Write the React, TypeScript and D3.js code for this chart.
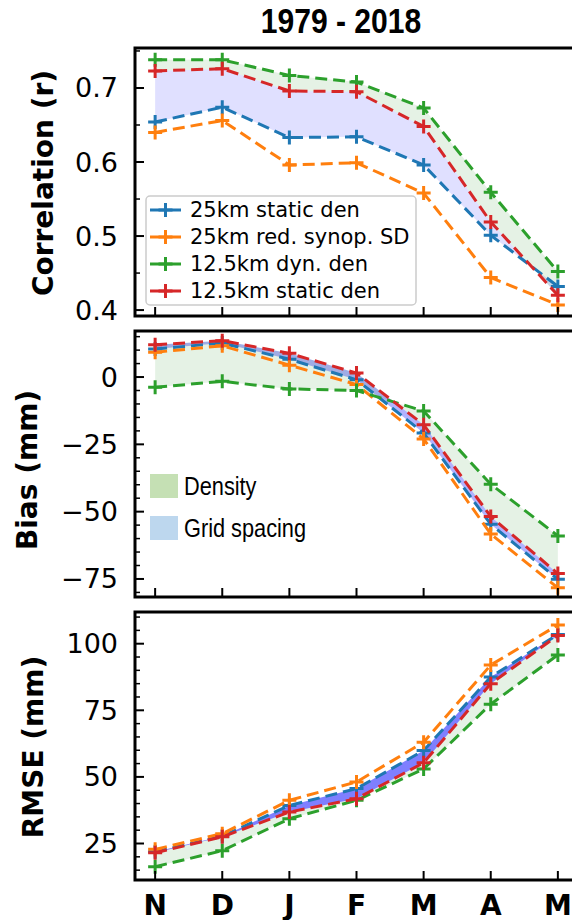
import React, { useEffect, useRef } from 'react';
import * as d3 from 'd3';

const months = ['N', 'D', 'J', 'F', 'M', 'A', 'M'];

// Correlation (r)
const corrStatic25 = [0.654, 0.674, 0.633, 0.634, 0.596, 0.501, 0.432];
const corrRedSynop25 = [0.64, 0.656, 0.596, 0.599, 0.558, 0.444, 0.407];
const corrDyn125 = [0.738, 0.738, 0.717, 0.708, 0.673, 0.559, 0.452];
const corrStatic125 = [0.723, 0.726, 0.696, 0.695, 0.648, 0.519, 0.42];

// Bias (mm)
const biasStatic25 = [10.4, 12.6, 6.6, -1.0, -20.8, -54.7, -75.1];
const biasRedSynop25 = [9.2, 11.6, 4.4, -2.8, -23.0, -58.3, -78.3];
const biasDyn125 = [-3.8, -1.6, -4.4, -5.0, -12.6, -39.8, -59.0];
const biasStatic125 = [12.0, 13.5, 8.8, 1.5, -17.7, -51.8, -73.0];

// RMSE (mm)
const rmseStatic25 = [21.9, 27.7, 39.3, 45.6, 59.9, 87.5, 103.5];
const rmseRedSynop25 = [22.8, 28.7, 41.2, 48.1, 63.0, 92.0, 107.0];
const rmseDyn125 = [16.3, 22.3, 34.3, 41.2, 53.0, 77.3, 95.8];
const rmseStatic125 = [21.5, 27.5, 36.8, 41.8, 55.3, 85.0, 103.1];

const seriesNames = ['25km static den', '25km red. synop. SD', '12.5km dyn. den', '12.5km static den'];
const seriesColors = ['#1f77b4', '#ff7f0e', '#2ca02c', '#d62728'];

const corrTicks = [0.4, 0.5, 0.6, 0.7];
const biasTicks = [-75, -50, -25, 0];
const rmseTicks = [25, 50, 75, 100];

const patchLabels = ['Density', 'Grid spacing'];
const patchColors = ['#c5e0b4', '#bdd7ee'];

const W = 572;
const H = 920;
// no Arial Narrow here, so squeeze Liberation Sans horizontally
const narrow = '"Liberation Sans", Arial, sans-serif';

export default function App() {
  const ref = useRef<SVGSVGElement>(null);

  useEffect(() => {
    const svg = d3.select(ref.current);
    svg.selectAll('*').remove();
    svg.append('rect').attr('width', W).attr('height', H).attr('fill', 'white');

    const left = 135;
    const right = 578;
    const x = d3.scaleLinear().domain([-0.3, 6.3]).range([left, right]);
    const idx = d3.range(months.length);

    const panels = [
      {
        top: 48, bottom: 316, domain: [0.392, 0.754], ticks: corrTicks, minor: d3.range(0.45, 0.76, 0.1),
        fmt: d3.format('.1f'), series: [corrStatic25, corrRedSynop25, corrDyn125, corrStatic125],
        label: 'Correlation (r)', lx: 43, ly: 183, gridAlpha: 0.12,
      },
      {
        top: 331, bottom: 597, domain: [-81.7, 17.1], ticks: biasTicks, minor: d3.range(-80, 16, 5),
        fmt: d3.format('d'), series: [biasStatic25, biasRedSynop25, biasDyn125, biasStatic125],
        label: 'Bias (mm)', lx: 27, ly: 470, gridAlpha: 0.3,
      },
      {
        top: 612, bottom: 880, domain: [11.3, 111.9], ticks: rmseTicks, minor: d3.range(15, 111, 5),
        fmt: d3.format('d'), series: [rmseStatic25, rmseRedSynop25, rmseDyn125, rmseStatic125],
        label: 'RMSE (mm)', lx: 33, ly: 747, gridAlpha: 0.5,
      },
    ];

    panels.forEach((p, pi) => {
      const y = d3.scaleLinear().domain(p.domain).range([p.bottom, p.top]);
      const g = svg.append('g');
      const clipId = `clip${pi}`;
      svg.append('clipPath').attr('id', clipId)
        .append('rect').attr('x', left).attr('y', p.top).attr('width', right - left).attr('height', p.bottom - p.top);

      const plot = g.append('g').attr('clip-path', `url(#${clipId})`);
      const [s25, , dyn125, s125] = p.series;

      // fills: grid spacing (25km static vs 12.5km static), density (12.5km static vs dyn)
      const gridArea = d3.area<number>().x((i) => x(i)).y0((i) => y(s25[i])).y1((i) => y(s125[i]));
      const denArea = d3.area<number>().x((i) => x(i)).y0((i) => y(s125[i])).y1((i) => y(dyn125[i]));
      plot.append('path').datum(idx).attr('d', gridArea).attr('fill', 'blue').attr('fill-opacity', p.gridAlpha);
      plot.append('path').datum(idx).attr('d', denArea).attr('fill', 'green').attr('fill-opacity', 0.1);

      const line = d3.line<number>().x((i) => x(i));
      p.series.forEach((vals, si) => {
        plot.append('path').datum(idx)
          .attr('d', line.y((i) => y(vals[i])))
          .attr('fill', 'none')
          .attr('stroke', seriesColors[si])
          .attr('stroke-width', 3)
          .attr('stroke-dasharray', '12,6');
        plot.append('g').selectAll('path').data(idx).enter().append('path')
          .attr('d', (i) => {
            const cx = x(i);
            const cy = y(vals[i]);
            return `M${cx - 7},${cy}H${cx + 7}M${cx},${cy - 7}V${cy + 7}`;
          })
          .attr('stroke', seriesColors[si])
          .attr('stroke-width', 3);
      });

      // spines
      g.append('rect').attr('x', left).attr('y', p.top).attr('width', right - left).attr('height', p.bottom - p.top)
        .attr('fill', 'none').attr('stroke', 'black').attr('stroke-width', 3);

      // y ticks (inward)
      g.selectAll('.major').data(p.ticks).enter().append('line')
        .attr('x1', left).attr('x2', left + 9).attr('y1', (d) => y(d)).attr('y2', (d) => y(d))
        .attr('stroke', 'black').attr('stroke-width', 2);
      g.selectAll('.minor').data(p.minor.filter((d) => !p.ticks.some((t) => Math.abs(t - d) < 1e-6))).enter().append('line')
        .attr('x1', left).attr('x2', left + 5).attr('y1', (d) => y(d)).attr('y2', (d) => y(d))
        .attr('stroke', 'black').attr('stroke-width', 1.5);
      g.selectAll('.ylab').data(p.ticks).enter().append('text')
        .attr('x', left - 17).attr('y', (d) => y(d))
        .attr('text-anchor', 'end').attr('dominant-baseline', 'central')
        .attr('font-family', 'DejaVu Sans').attr('font-size', 27)
        .text((d) => p.fmt(d));

      // x ticks (inward)
      g.selectAll('.xt').data(idx).enter().append('line')
        .attr('x1', (i) => x(i)).attr('x2', (i) => x(i)).attr('y1', p.bottom).attr('y2', p.bottom - 9)
        .attr('stroke', 'black').attr('stroke-width', 2);

      // axis label
      g.append('text')
        .attr('transform', `translate(${p.lx},${p.ly}) rotate(-90)`)
        .attr('text-anchor', 'middle').attr('dominant-baseline', 'central')
        .attr('font-family', 'DejaVu Sans').attr('font-weight', 'bold').attr('font-size', 28)
        .text(p.label);
    });

    // x tick labels
    svg.append('g').selectAll('text').data(idx).enter().append('text')
      .attr('x', (i) => x(i)).attr('y', 905)
      .attr('text-anchor', 'middle').attr('dominant-baseline', 'central')
      .attr('font-family', 'DejaVu Sans').attr('font-weight', 'bold').attr('font-size', 28)
      .text((i) => months[i]);

    // title
    svg.append('text').attr('transform', 'translate(341,21) scale(0.86,1)')
      .attr('text-anchor', 'middle').attr('dominant-baseline', 'central')
      .attr('font-family', narrow).attr('font-weight', 'bold').attr('font-size', 35)
      .text('1979 - 2018');

    // series legend (top panel)
    const leg = svg.append('g');
    leg.append('rect').attr('x', 146).attr('y', 196).attr('width', 270).attr('height', 109).attr('rx', 4)
      .attr('fill', 'white').attr('fill-opacity', 0.8).attr('stroke', '#cccccc').attr('stroke-width', 1.5);
    seriesNames.forEach((name, si) => {
      const cy = 210 + si * 27;
      leg.append('line').attr('x1', 150).attr('x2', 181).attr('y1', cy).attr('y2', cy)
        .attr('stroke', seriesColors[si]).attr('stroke-width', 3);
      leg.append('path').attr('d', `M${165.5 - 7},${cy}H${165.5 + 7}M${165.5},${cy - 7}V${cy + 7}`)
        .attr('stroke', seriesColors[si]).attr('stroke-width', 3);
      leg.append('text').attr('x', 190).attr('y', cy).attr('dominant-baseline', 'central')
        .attr('font-family', 'DejaVu Sans').attr('font-size', 21).text(name);
    });

    // fill legend (bias panel)
    patchLabels.forEach((name, k) => {
      const py = 474 + k * 42;
      svg.append('rect').attr('x', 150).attr('y', py).attr('width', 28).attr('height', 24).attr('fill', patchColors[k]);
      svg.append('text').attr('transform', `translate(184,${py + 12}) scale(0.87,1)`).attr('dominant-baseline', 'central')
        .attr('font-family', narrow).attr('font-size', 25).text(name);
    });
  }, []);

  return (
    <div style={{ position: 'absolute', left: 0, top: 0 }}>
      <svg ref={ref} width={W} height={H} style={{ display: 'block' }} />
    </div>
  );
}
